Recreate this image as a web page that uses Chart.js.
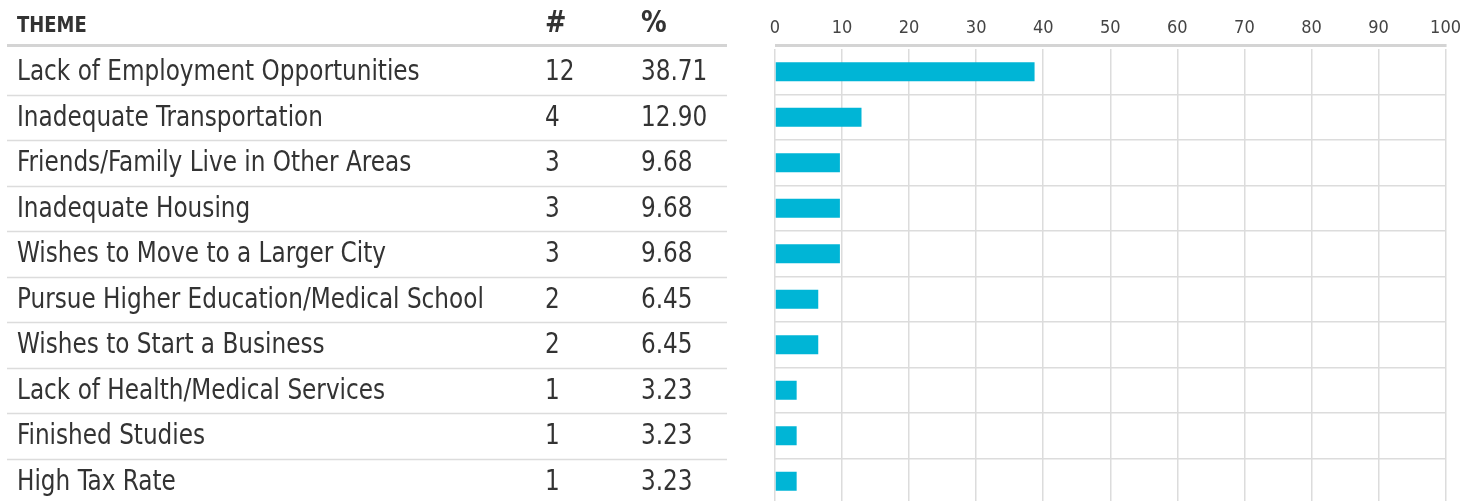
<!DOCTYPE HTML>
<html>
<head>
    <script src="https://cdn.jsdelivr.net/npm/chart.js"></script>
</head>
<body>
<style>
    * {
        margin: 0;
        padding: 0;
        box-sizing: border-box;
    }
    body {
        background: #ffffff;
        overflow: hidden;
    }
    .chart {
        position: relative;
        width: 1471px;
        height: 505px;
    }
</style>
<div class="chart">
    <canvas id="myChart"></canvas>
</div>
<script>
    const themes = [
        'Lack of Employment Opportunities',
        'Inadequate Transportation',
        'Friends/Family Live in Other Areas',
        'Inadequate Housing',
        'Wishes to Move to a Larger City',
        'Pursue Higher Education/Medical School',
        'Wishes to Start a Business',
        'Lack of Health/Medical Services',
        'Finished Studies',
        'High Tax Rate'
    ];
    const counts = [12, 4, 3, 3, 3, 2, 2, 1, 1, 1];
    const percents = [38.71, 12.90, 9.68, 9.68, 9.68, 6.45, 6.45, 3.23, 3.23, 3.23];
    const headers = ['THEME', '#', '%'];

    const FONT = '"Liberation Sans Narrow", "DejaVu Sans Condensed", sans-serif';
    const TEXT = '#333333';
    const LINE = '#dcdcdc';

    // condensed text: squeeze horizontally a bit
    function drawText(ctx, t, x, y, sx) {
        ctx.save();
        ctx.translate(x, y);
        ctx.scale(sx, 1);
        ctx.fillText(t, 0, 0);
        ctx.restore();
    }

    // draws the left hand table, lined up with the y scale rows
    const tablePlugin = {
        id: 'themeTable',
        afterDraw(chart) {
            const ctx = chart.ctx;
            const y = chart.scales.y;
            const area = chart.chartArea;
            const rowH = y.getPixelForValue(1) - y.getPixelForValue(0);
            ctx.save();
            ctx.fillStyle = TEXT;
            ctx.textAlign = 'left';
            ctx.textBaseline = 'middle';

            ctx.font = 'bold 21px ' + FONT;
            drawText(ctx, headers[0], 17, 27, 0.95);
            ctx.font = 'bold 30px ' + FONT;
            drawText(ctx, headers[1], 545, 24, 0.95);
            drawText(ctx, headers[2], 641, 24, 0.95);

            // thick header rule, across table and chart
            ctx.strokeStyle = '#d4d4d4';
            ctx.lineWidth = 3;
            ctx.beginPath();
            ctx.moveTo(7, 45.5);
            ctx.lineTo(727, 45.5);
            ctx.moveTo(area.left, 45.5);
            ctx.lineTo(area.right + 1, 45.5);
            ctx.stroke();

            ctx.strokeStyle = LINE;
            ctx.lineWidth = 1.5;
            ctx.font = '28px ' + FONT;
            themes.forEach((t, i) => {
                const cy = y.getPixelForValue(i);
                drawText(ctx, t, 17, cy + 1, 0.92);
                drawText(ctx, String(counts[i]), 545, cy + 1, 0.92);
                drawText(ctx, percents[i].toFixed(2), 641, cy + 1, 0.92);
                const ly = Math.round(cy + rowH / 2) + 0.5;
                ctx.beginPath();
                ctx.moveTo(7, ly);
                ctx.lineTo(727, ly);
                ctx.stroke();
            });
            ctx.restore();
        }
    };

    const ctx = document.getElementById('myChart');
    new Chart(ctx, {
        type: 'bar',
        data: {
            labels: themes,
            datasets: [{
                data: percents,
                backgroundColor: '#00b5d6',
                borderWidth: 0,
                categoryPercentage: 1,
                barPercentage: 0.42
            }]
        },
        options: {
            indexAxis: 'y',
            responsive: true,
            maintainAspectRatio: false,
            animation: false,
            layout: {
                padding: {left: 775, right: 24, top: 0, bottom: 1}
            },
            plugins: {
                legend: {display: false},
                tooltip: {enabled: false}
            },
            scales: {
                x: {
                    position: 'top',
                    min: 0,
                    max: 100,
                    afterFit: (s) => { s.height = 49; },
                    ticks: {
                        stepSize: 10,
                        padding: 10,
                        color: '#444444',
                        font: {family: FONT, size: 18}
                    },
                    grid: {color: LINE, lineWidth: 1.5, drawTicks: false},
                    border: {display: false}
                },
                y: {
                    afterFit: (s) => { s.width = 0; },
                    ticks: {display: false},
                    grid: {
                        color: (c) => c.index === 0 ? 'rgba(0,0,0,0)' : LINE,
                        lineWidth: 1.5,
                        drawTicks: false
                    },
                    border: {display: false}
                }
            }
        },
        plugins: [tablePlugin]
    });
</script>
</body>
</html>
